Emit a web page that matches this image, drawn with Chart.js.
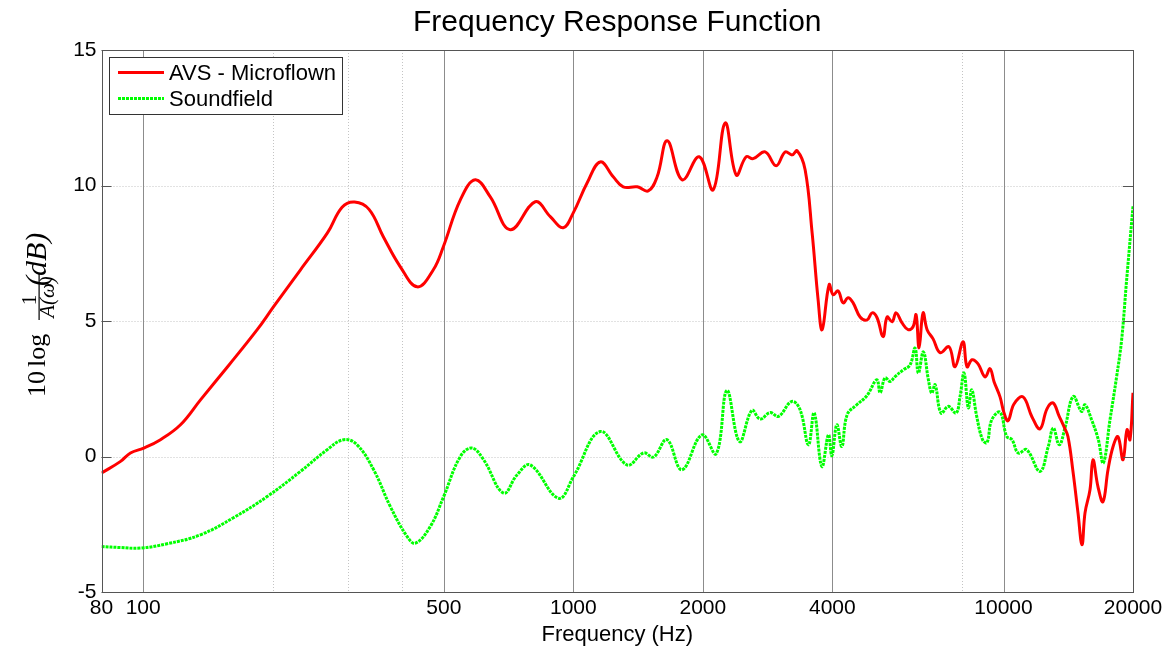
<!DOCTYPE html>
<html>
<head>
<meta charset="utf-8">
<script src="https://cdn.jsdelivr.net/npm/chart.js@4.4.1/dist/chart.umd.min.js"></script>
<style>
  html, body { margin: 0; padding: 0; background: #fff; }
  #wrap { width: 1173px; height: 651px; }
</style>
</head>
<body>
<div id="wrap"><canvas id="frf" width="1173" height="651"></canvas></div>
<script>
// AVS - Microflown response: frequency (Hz) and level (dB)
const avsFreq = [80, 88.6, 93.4, 100.3, 109.7, 122.1, 135.9, 157.8, 184.1, 200.8, 232.1, 268.1, 290, 310, 335, 361.6, 396.1, 433.8, 472.6, 498.6,
  546.1, 591.6, 641.1, 713.5, 815.5, 883.9, 947.3, 999.5, 1077, 1155, 1238, 1306, 1408, 1493, 1566, 1653, 1791, 1961, 2114, 2254,
  2391, 2522, 2618, 2792, 2961, 3107, 3226, 3313, 3458, 3590, 3707, 3787, 3932, 4017, 4126, 4238, 4353, 4471, 4641, 4818,
  4948, 5082, 5249, 5362, 5508, 5627, 5810, 5999, 6162, 6262, 6364, 6502, 6643, 6859, 7121, 7471, 7715, 8052, 8226, 8449,
  8726, 9058, 9304, 9506, 9815, 10028, 10245, 10578, 11100, 11648, 12156, 12620, 13032, 13459, 13823, 14123, 14506, 14899, 15222, 15469,
  15888, 16145, 16583, 17033, 17495, 17970, 18457, 18958, 19369, 19681, 20000];
const avsLevel = [-0.61, -0.18, 0.13, 0.31, 0.62, 1.17, 2.09, 3.35, 4.68, 5.52, 6.89, 8.25, 9.2, 9.39, 9.12, 8.11, 7.0, 6.26, 6.89, 7.74,
  9.47, 10.21, 9.58, 8.37, 9.40, 8.85, 8.44, 8.99, 10.10, 10.87, 10.32, 9.95, 9.95, 9.80, 10.32, 11.65, 10.21, 11.06, 9.84, 12.31,
  10.39, 11.06, 10.99, 11.24, 10.73, 11.24, 11.13, 11.28, 10.58, 8.25, 5.78, 4.68, 6.34, 5.97, 6.11, 5.67, 5.86, 5.67, 5.15, 5.04,
  5.30, 5.12, 4.42, 5.15, 4.97, 5.30, 4.93, 4.68, 4.79, 5.23, 4.01, 5.30, 4.68, 4.34, 3.83, 4.05, 3.31, 4.23, 3.31, 3.57,
  3.42, 2.94, 3.24, 2.76, 2.20, 1.61, 1.32, 1.94, 2.20, 1.46, 1.02, 1.76, 1.98, 1.50, 1.10, 0.73, -0.56, -2.08, -3.26, -2.08,
  -1.23, -0.12, -1.12, -1.67, -0.49, 0.36, 0.73, -0.12, 0.99, 0.62, 2.35];

// Soundfield reference response: frequency (Hz) and level (dB)
const sfFreq = [80, 88.6, 98.6, 113.7, 135.9, 162.1, 194.1, 232.1, 267.7, 292.4, 314.2, 343.4, 375.5, 410.6, 429.3, 465.1, 499.4, 546.1, 581.3, 618.6,
  688.3, 739.6, 794.1, 924.1, 1001, 1155, 1332, 1456, 1536, 1650, 1788, 1990, 2148, 2275, 2434, 2600, 2718, 2868, 2998, 3220,
  3367, 3520, 3629, 3782, 3918, 3990, 4098, 4209, 4330, 4560, 4811, 5075, 5166, 5305, 5449, 5597, 5851, 6065, 6229, 6339,
  6512, 6689, 6812, 6934, 7159, 7443, 7757, 7924, 8095, 8284, 8436, 8664, 8938, 9155, 9388, 9815, 10172, 10464, 10823, 11322,
  12156, 12708, 13052, 13478, 13893, 14524, 15194, 15469, 16031, 16612, 17061, 17680, 18323, 18820, 19330, 20000];
const sfLevel = [-3.32, -3.36, -3.38, -3.22, -2.89, -2.26, -1.48, -0.55, 0.25, 0.62, 0.43, -0.49, -1.85, -2.95, -3.20, -2.58, -1.48, 0, 0.31, -0.12,
  -1.35, -0.68, -0.31, -1.54, -0.74, 0.92, -0.31, 0.13, -0.02, 0.62, -0.49, 0.80, 0.10, 2.44, 0.55, 1.70, 1.38, 1.62, 1.48, 2.03,
  1.72, 0.43, 1.61, -0.37, 0.80, 0.03, 1.17, 0.37, 1.54, 1.91, 2.24, 2.83, 2.35, 2.90, 2.77, 2.95, 3.20, 3.38, 4.00, 3.08,
  3.86, 2.83, 2.34, 2.65, 1.60, 1.85, 1.60, 2.21, 3.08, 1.80, 2.46, 1.48, 0.62, 0.51, 1.35, 1.63, 0.74, 0.62, 0.13, 0.25,
  -0.55, 0.37, 1.05, 0.43, 1.05, 2.21, 1.66, 1.91, 1.35, 0.62, -0.24, 1.35, 2.95, 4.31, 6.52, 9.23];

// Axis ticks and grid positions
const xTickValues = [80, 100, 500, 1000, 2000, 4000, 10000, 20000];
const xMajorGrid = [100, 500, 1000, 2000, 4000, 10000];
const xMinorGrid = [200, 300, 400, 8000];
const yTickValues = [-5, 0, 5, 10, 15];

const toPoints = (fs, ls) => fs.map((f, i) => ({ x: f, y: ls[i] }));

Chart.defaults.font.family = '"Liberation Sans", Arial, sans-serif';
Chart.defaults.color = '#000';

function vline(ctx, px, top, bottom) {
  ctx.beginPath(); ctx.moveTo(px, top); ctx.lineTo(px, bottom); ctx.stroke();
}
function hline(ctx, py, left, right) {
  ctx.beginPath(); ctx.moveTo(left, py); ctx.lineTo(right, py); ctx.stroke();
}

// Grid, framed box with inward ticks, legend and the math-style y label
const frame = {
  id: 'frame',
  beforeDatasetsDraw(chart) {
    const { ctx, chartArea: a, scales: { x, y } } = chart;
    ctx.save();
    ctx.lineWidth = 1;
    ctx.strokeStyle = '#c4c4c4';
    ctx.setLineDash([1, 2]);
    yTickValues.slice(1, -1).forEach(v => hline(ctx, Math.round(y.getPixelForValue(v)) + 0.5, a.left, a.right));
    xMinorGrid.forEach(v => vline(ctx, Math.round(x.getPixelForValue(v)) + 0.5, a.top, a.bottom));
    ctx.setLineDash([]);
    ctx.strokeStyle = '#8c8c8c';
    xMajorGrid.forEach(v => vline(ctx, Math.round(x.getPixelForValue(v)) + 0.5, a.top, a.bottom));
    ctx.restore();
  },
  afterDatasetsDraw(chart) {
    const { ctx, chartArea: a, scales: { y } } = chart;
    ctx.save();
    ctx.lineWidth = 1;
    ctx.strokeStyle = '#555';
    ctx.strokeRect(Math.round(a.left) + 0.5, Math.round(a.top) + 0.5, Math.round(a.right - a.left) - 1, Math.round(a.bottom - a.top));
    yTickValues.forEach(v => {
      const py = Math.round(y.getPixelForValue(v)) + 0.5;
      hline(ctx, py, a.left, a.left + 10);
      hline(ctx, py, a.right - 10, a.right);
    });

    // legend box
    const lx = 109, ly = 57, lw = 233, lh = 57;
    ctx.fillStyle = '#fff';
    ctx.fillRect(lx, ly, lw, lh);
    ctx.strokeStyle = '#333';
    ctx.strokeRect(lx + 0.5, ly + 0.5, lw, lh);
    chart.data.datasets.forEach((ds, i) => {
      const cy = 72.5 + i * 26;
      ctx.strokeStyle = ds.borderColor;
      ctx.lineWidth = ds.borderWidth;
      ctx.setLineDash(ds.borderDash || []);
      hline(ctx, cy, 118, 164);
      ctx.setLineDash([]);
      ctx.fillStyle = '#000';
      ctx.font = '22px "Liberation Sans"';
      ctx.textBaseline = 'middle';
      ctx.textAlign = 'left';
      ctx.fillText(ds.label, 169, cy + 1);
    });
    ctx.restore();
  },
  afterDraw(chart) {
    // rotated label: 10 log (1 / A(ω)) (dB)
    const ctx = chart.ctx;
    ctx.save();
    ctx.rotate(-Math.PI / 2);
    ctx.fillStyle = '#000';
    ctx.textBaseline = 'alphabetic';
    ctx.textAlign = 'left';
    ctx.font = '26px "Liberation Serif"';
    let u = -397;
    ctx.fillText('10', u, 45);
    u += ctx.measureText('10').width + 4;
    ctx.fillText('log', u, 45);
    ctx.font = '21px "Liberation Serif"';
    ctx.textAlign = 'center';
    ctx.fillText('1', -300, 36);
    ctx.fillRect(-320, 38.5, 46, 1.2);
    ctx.font = 'italic 21px "Liberation Serif"';
    ctx.fillText('A(ω)', -297, 54);
    ctx.font = 'italic 30px "Liberation Serif"';
    ctx.textAlign = 'left';
    ctx.fillText('(dB)', -286, 46);
    ctx.restore();
  }
};

new Chart(document.getElementById('frf'), {
  type: 'line',
  data: {
    datasets: [
      {
        label: 'AVS - Microflown',
        data: toPoints(avsFreq, avsLevel),
        borderColor: '#ff0000',
        borderWidth: 3,
        pointRadius: 0,
        tension: 0.4,
        fill: false
      },
      {
        label: 'Soundfield',
        data: toPoints(sfFreq, sfLevel),
        borderColor: '#00ff00',
        borderWidth: 3,
        borderDash: [3, 1],
        pointRadius: 0,
        tension: 0.4,
        fill: false
      }
    ]
  },
  options: {
    responsive: false,
    animation: false,
    devicePixelRatio: 1,
    layout: { padding: { left: 0, right: 40, top: 0, bottom: 0 } },
    plugins: {
      legend: { display: false },
      tooltip: { enabled: false },
      title: {
        display: true,
        text: 'Frequency Response Function',
        fullSize: false,
        color: '#000',
        font: { size: 30, weight: 'normal' },
        padding: { top: 5, bottom: 9 }
      }
    },
    scales: {
      x: {
        type: 'logarithmic',
        min: 80,
        max: 20000,
        grid: { display: false, drawTicks: false },
        border: { display: false },
        afterBuildTicks: s => { s.ticks = xTickValues.map(v => ({ value: v })); },
        afterFit: s => { s.height = 59; },
        ticks: {
          autoSkip: false, maxRotation: 0, minRotation: 0, padding: 4,
          font: { size: 21 },
          callback: v => String(v)
        },
        title: {
          display: true,
          text: 'Frequency (Hz)',
          font: { size: 22 },
          padding: { top: 0, bottom: 3 }
        }
      },
      y: {
        type: 'linear',
        min: -5,
        max: 15,
        grid: { display: false, drawTicks: false },
        border: { display: false },
        afterBuildTicks: s => { s.ticks = yTickValues.map(v => ({ value: v })); },
        afterFit: s => { s.width = 101.5; },
        ticks: { padding: 5, font: { size: 21 } }
      }
    }
  },
  plugins: [frame]
});
</script>
</body>
</html>
